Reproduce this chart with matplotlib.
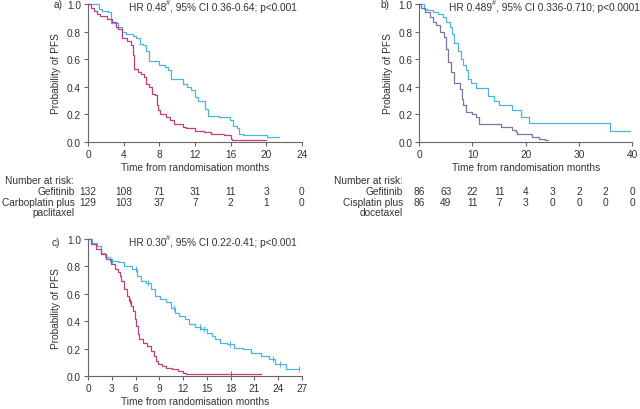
import numpy as np
import matplotlib
matplotlib.use('Agg')
import matplotlib.pyplot as plt
from matplotlib.transforms import blended_transform_factory

plt.rcParams['font.family'] = ['Liberation Sans', 'DejaVu Sans']
plt.rcParams['font.size'] = 7.3

BLUE = '#4cb5e4'
MAGENTA = '#c23f7e'
PURPLE = '#7d74a3'
TXT = '#333333'
AX = '#666666'

# ---- panel a: gefitinib vs carboplatin plus paclitaxel
a_gef_t = [0, 1.2, 1.6, 2.3, 2.6, 3.4, 3.8, 4.3, 5.0, 5.4, 5.8, 6.2, 6.5, 6.8, 8.0, 8.7, 9.0, 9.3,
           10.7, 11.1, 11.6, 12.0, 12.4, 13.1, 13.5, 14.7, 15.9, 16.3, 16.7, 17.0, 17.4, 20.1, 21.4]
a_gef_s = [1.0, 0.964, 0.95, 0.94, 0.86, 0.83, 0.795, 0.78, 0.77, 0.75, 0.71, 0.70, 0.66, 0.59, 0.555,
           0.54, 0.52, 0.46, 0.42, 0.40, 0.375, 0.325, 0.30, 0.24, 0.19, 0.18, 0.16, 0.12, 0.10, 0.06,
           0.05, 0.036, 0.036]
a_cp_t = [0, 0.3, 0.7, 1.0, 1.4, 2.1, 2.7, 3.1, 3.4, 3.8, 4.4, 4.8, 5.0, 5.2, 5.6, 6.0, 6.3, 6.5, 6.9,
          7.2, 7.5, 7.7, 7.9, 8.1, 8.8, 9.2, 9.6, 10.7, 11.0, 12.0, 13.0, 13.8, 15.3, 16.0, 16.2, 20.0]
a_cp_s = [1.0, 0.97, 0.95, 0.93, 0.915, 0.89, 0.87, 0.83, 0.82, 0.75, 0.735, 0.70, 0.63, 0.53, 0.51,
          0.495, 0.47, 0.42, 0.40, 0.35, 0.34, 0.265, 0.23, 0.205, 0.18, 0.16, 0.13, 0.11, 0.10, 0.08,
          0.075, 0.06, 0.05, 0.025, 0.012, 0.012]
a_risk_t = [0, 4, 8, 12, 16, 20, 24]
a_risk_gef = [132, 108, 71, 31, 11, 3, 0]
a_risk_cp = [129, 103, 37, 7, 2, 1, 0]

# ---- panel b: gefitinib vs cisplatin plus docetaxel
b_gef_t = [0, 0.9, 1.4, 2.6, 3.5, 4.5, 5.1, 5.7, 6.2, 6.6, 7.3, 7.9, 8.2, 8.7, 9.1, 9.8, 10.7, 13.0,
           14.1, 15.0, 17.5, 19.1, 20.6, 35.8, 39.5]
b_gef_s = [1.0, 0.965, 0.955, 0.945, 0.93, 0.905, 0.87, 0.83, 0.78, 0.72, 0.66, 0.60, 0.555, 0.52,
           0.46, 0.43, 0.39, 0.337, 0.30, 0.27, 0.229, 0.18, 0.14, 0.077, 0.077]
b_cd_t = [0, 0.4, 1.0, 2.0, 2.6, 3.2, 3.9, 4.6, 5.1, 5.4, 6.0, 6.6, 7.6, 8.1, 8.3, 8.8, 10.0, 10.7,
          11.3, 15.3, 17.5, 18.1, 18.4, 21.2, 22.5, 23.7, 24.2]
b_cd_s = [1.0, 0.97, 0.94, 0.905, 0.87, 0.845, 0.795, 0.76, 0.675, 0.58, 0.505, 0.43, 0.385, 0.31,
          0.265, 0.217, 0.205, 0.18, 0.13, 0.11, 0.09, 0.075, 0.06, 0.036, 0.024, 0.012, 0.012]
b_risk_t = [0, 5, 10, 15, 20, 25, 30, 35, 40]
b_risk_gef = [86, 63, 22, 11, 4, 3, 2, 2, 0]
b_risk_cd = [86, 49, 11, 7, 3, 0, 0, 0, 0]

# ---- panel c
c_gef_t = [0, 0.5, 1.1, 1.6, 2.2, 2.8, 3.8, 4.6, 5.5, 6.2, 6.7, 7.3, 7.9, 8.4, 9.1, 9.9, 10.5, 11.0,
           11.5, 12.2, 12.8, 13.5, 14.3, 15.0, 15.6, 16.1, 16.7, 17.5, 18.5, 19.6, 20.6, 21.9, 22.9,
           23.6, 25.0, 26.6]
c_gef_s = [1.0, 0.97, 0.95, 0.90, 0.866, 0.84, 0.83, 0.805, 0.78, 0.73, 0.695, 0.68, 0.634, 0.585,
           0.56, 0.537, 0.50, 0.463, 0.44, 0.415, 0.378, 0.36, 0.34, 0.317, 0.293, 0.268, 0.244, 0.232,
           0.207, 0.195, 0.17, 0.146, 0.122, 0.085, 0.054, 0.054]
c_ctl_t = [0, 0.4, 1.0, 1.6, 2.3, 2.9, 3.4, 3.8, 4.0, 4.2, 4.5, 4.9, 5.2, 5.4, 5.7, 5.9, 6.1, 6.3, 6.5,
           6.9, 7.4, 7.9, 8.3, 8.6, 8.9, 9.3, 9.9, 10.6, 11.4, 12.0, 12.4, 21.9]
c_ctl_s = [1.0, 0.963, 0.927, 0.89, 0.854, 0.817, 0.78, 0.756, 0.73, 0.695, 0.634, 0.585, 0.55, 0.512,
           0.476, 0.415, 0.366, 0.305, 0.268, 0.244, 0.22, 0.183, 0.146, 0.11, 0.085, 0.073, 0.061,
           0.05, 0.037, 0.025, 0.017, 0.017]
c_gef_cens = [3.0, 6.0, 7.6, 10.8, 14.2, 14.7, 17.9, 23.4, 24.2, 26.6]
c_ctl_cens = [5.3, 18.0]

fig = plt.figure(figsize=(6.4, 4.1), dpi=100)


def style(ax, xmax, xstep):
    for s in ['top', 'right']:
        ax.spines[s].set_visible(False)
    for s in ['left', 'bottom']:
        ax.spines[s].set_color(AX)
        ax.spines[s].set_linewidth(0.8)
    ax.set_xlim(0, xmax)
    ax.set_ylim(0, 1.0)
    ax.set_xticks(np.arange(0, xmax + 0.1, xstep))
    ax.set_yticks(np.arange(0, 1.01, 0.2))
    ax.yaxis.set_major_formatter(plt.FormatStrFormatter('%.1f'))
    ax.tick_params(direction='out', length=3, width=0.8, color=AX, labelcolor=TXT, labelsize=7.3, pad=2)
    ax.set_xlabel('Time from randomisation months', color=TXT, fontsize=7.3, labelpad=2)
    ax.set_ylabel('Probability of PFS', color=TXT, fontsize=7.3, labelpad=4)


def km(ax, t, s, color, cens=None):
    ax.plot(t, s, drawstyle='steps-post', color=color, lw=0.9, clip_on=False)
    if cens:
        idx = np.searchsorted(t, cens, side='right') - 1
        ax.plot(cens, np.array(s)[idx], ls='none', marker='|', ms=4, mew=0.7, color=color, clip_on=False)


def hr_text(ax, x, y, hr, rest):
    # HR value with a small superscript hash
    t = ax.text(x, y, 'HR ' + hr, transform=ax.transAxes, ha='left', va='center', color=TXT, fontsize=7.3)
    fig.canvas.draw()
    bb = t.get_window_extent()
    inv = ax.transAxes.inverted()
    x1 = inv.transform((bb.x1, 0))[0]
    s = ax.text(x1 + 0.002, y + 0.035, '#', transform=ax.transAxes, ha='left', va='center',
                color=TXT, fontsize=5)
    fig.canvas.draw()
    bb2 = s.get_window_extent()
    x2 = inv.transform((bb2.x1, 0))[0]
    ax.text(x2, y, rest, transform=ax.transAxes, ha='left', va='center', color=TXT, fontsize=7.3)


def risk(ax, times, rows, labels, ys, xlab):
    tr = blended_transform_factory(ax.transData, fig.transFigure)
    for row, y in zip(rows, ys):
        for t, n in zip(times, row):
            ax.text(t, y, str(n), transform=tr, ha='center', va='center', color=TXT, fontsize=7.3, clip_on=False)
    for text, y in zip(labels, ys + [ys[-1] - 0.0245]):
        fig.text(xlab, y, text, ha='right', va='center', color=TXT, fontsize=7.3)


# panel a
ax_a = fig.add_axes([0.1375, 0.651, 0.334, 0.337])
style(ax_a, 24, 4)
km(ax_a, a_gef_t, a_gef_s, BLUE)
km(ax_a, a_cp_t, a_cp_s, MAGENTA)
hr_text(ax_a, 0.19, 0.975, '0.48', ', 95% CI 0.36-0.64; p<0.001')
fig.text(0.098, 0.988, 'a)', ha='right', va='center', color=TXT, fontsize=7.3)
fig.text(0.116, 0.559, 'Number at risk:', ha='right', va='center', color=TXT, fontsize=7.3)
risk(ax_a, a_risk_t, [a_risk_gef, a_risk_cp], ['Gefitinib', 'Carboplatin plus', 'paclitaxel'],
     [0.531, 0.506], 0.117)

# panel b
ax_b = fig.add_axes([0.655, 0.651, 0.333, 0.337])
style(ax_b, 40, 10)
km(ax_b, b_gef_t, b_gef_s, BLUE)
km(ax_b, b_cd_t, b_cd_s, PURPLE)
hr_text(ax_b, 0.14, 0.975, '0.489', ', 95% CI 0.336-0.710; p<0.0001')
fig.text(0.608, 0.988, 'b)', ha='right', va='center', color=TXT, fontsize=7.3)
fig.text(0.630, 0.559, 'Number at risk:', ha='right', va='center', color=TXT, fontsize=7.3)
risk(ax_b, b_risk_t, [b_risk_gef, b_risk_cd], ['Gefitinib', 'Cisplatin plus', 'docetaxel'],
     [0.531, 0.506], 0.630)

# panel c
ax_c = fig.add_axes([0.1375, 0.0805, 0.334, 0.334])
style(ax_c, 27, 3)
km(ax_c, c_gef_t, c_gef_s, BLUE, c_gef_cens)
km(ax_c, c_ctl_t, c_ctl_s, MAGENTA, c_ctl_cens)
hr_text(ax_c, 0.19, 0.975, '0.30', ', 95% CI 0.22-0.41; p<0.001')
fig.text(0.094, 0.408, 'c)', ha='right', va='center', color=TXT, fontsize=7.3)

fig.savefig('out.png', dpi=100)
